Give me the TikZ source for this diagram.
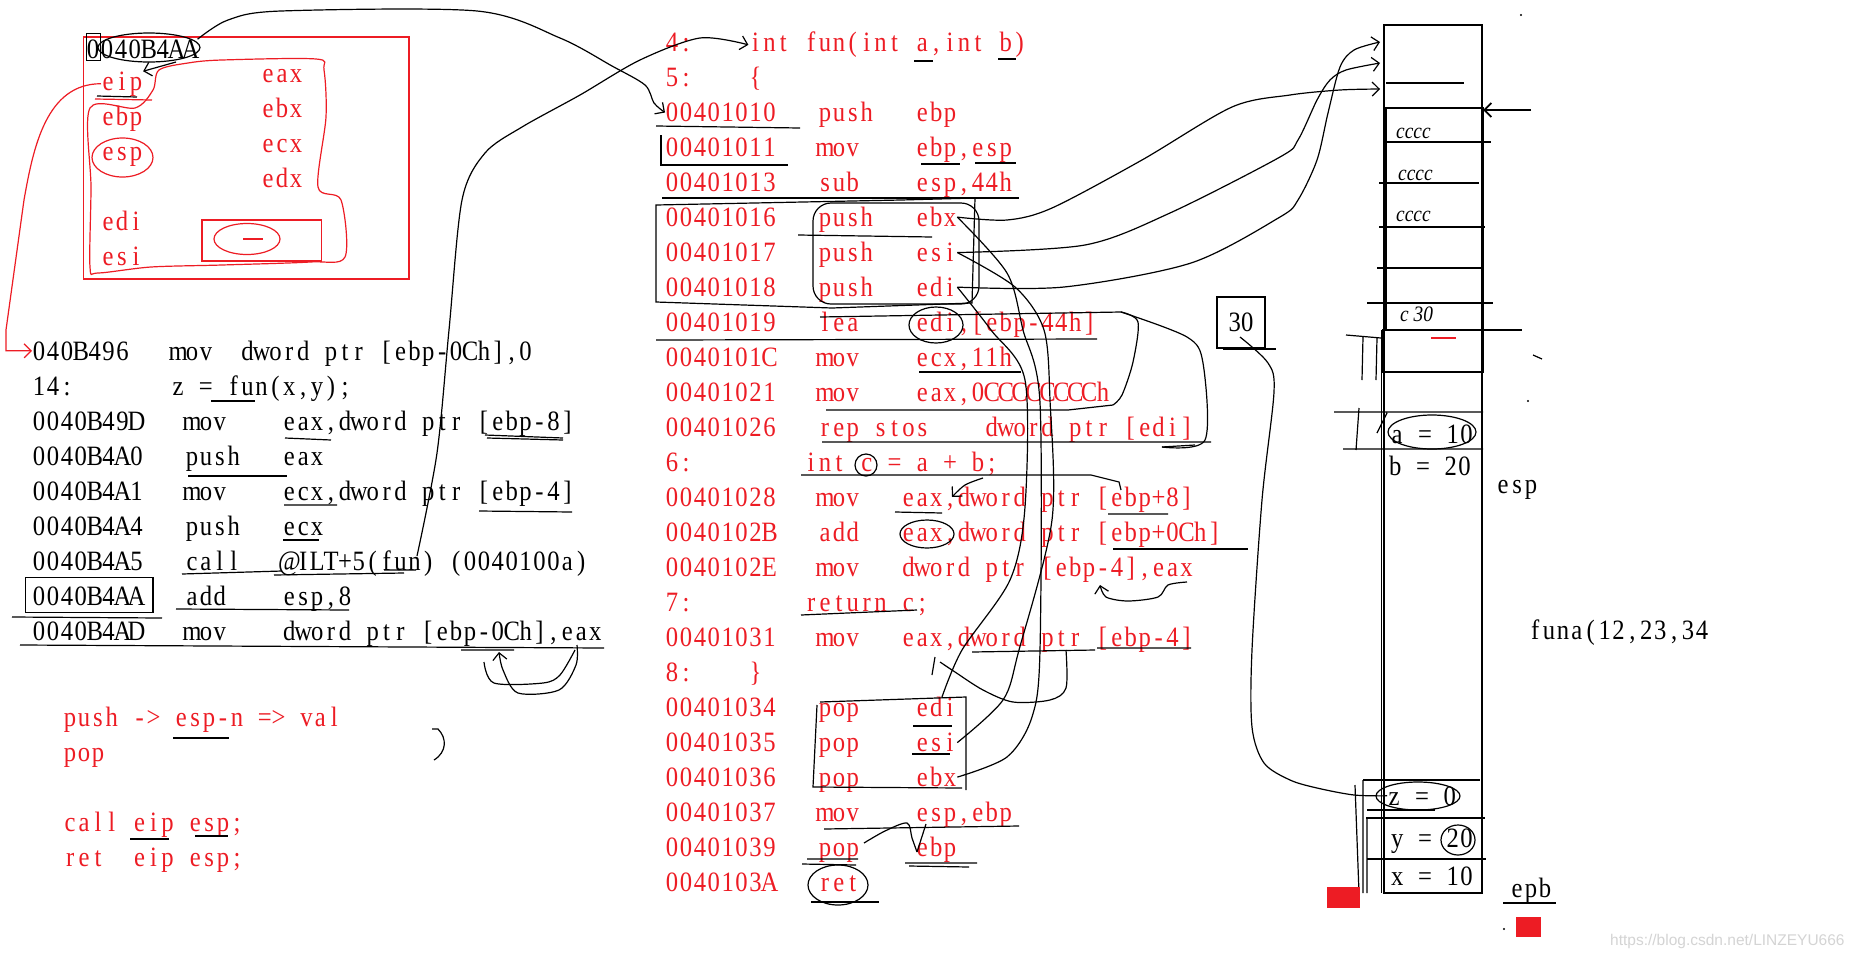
\documentclass[tikz,border=0pt]{standalone}
\usepackage{fontspec}
\setmainfont{Liberation Serif}[FakeStretch=0.88]
\newfontfamily\wmfont{Liberation Sans}
\usetikzlibrary{arrows.meta,calc}

\definecolor{codered}{RGB}{237,28,36}
\definecolor{wmgray}{RGB}{212,212,212}
\newcommand\codefont{\fontsize{28}{30}\selectfont}
\newcommand\handfont{\fontsize{22}{24}\selectfont\itshape}
\newlength\cellw
\setlength\cellw{13.9pt}
% every character in a cell of its own, like the listing font
\ExplSyntaxOn
\NewDocumentCommand\mono{m}{\str_map_inline:nn{#1}{\makebox[\cellw][c]{##1}}}
\ExplSyntaxOff

\begin{document}
\begin{tikzpicture}[x=1pt,y=-1pt,
    code/.style={anchor=base west, inner sep=0pt, text=codered, font=\codefont},
    blk/.style={code, text=black},
    hand/.style={anchor=base west, inner sep=0pt, font=\handfont},
    ink/.style={draw=black, line width=1.2pt},
    redink/.style={draw=codered, line width=1.2pt},
    barb/.style={-{Straight Barb[length=7pt,width=14pt]}},
]
\fill[white] (0,0) rectangle (1861,959);
\useasboundingbox (0,0) rectangle (1861,959);

% Registers
\draw[redink] (83.6,37) rectangle (409,279);
\node[blk] (retaddr) at (86,58) {\mono{0040B4AA}};
\node[code] (eip) at (101,90) {\mono{eip}};
\node[code] (ebp) at (101,125) {\mono{ebp}};
\node[code] (esp) at (101,160) {\mono{esp}};
\node[code] (edi) at (101,230) {\mono{edi}};
\node[code] (esi) at (101,265) {\mono{esi}};
\node[code] (eax) at (261,82) {\mono{eax}};
\node[code] (ebx) at (261,117) {\mono{ebx}};
\node[code] (ecx) at (261,152) {\mono{ecx}};
\node[code] (edx) at (261,187) {\mono{edx}};
\draw[redink] (202,220) rectangle (321.5,261);
\draw[redink] (247,239) ellipse [x radius=33, y radius=15.5];
\draw[redink] (243,239) -- (263,239);
\draw[redink] plot[smooth cycle] coordinates {(222,60) (316,59) (324,70) (326,117) (318,187) (341,200)
    (345,257) (310,262) (222,265) (151,267) (98,273) (90,267) (91,187) (90,108) (135,108) (153,90) (159,70) (188,63)};
\draw[redink] (122.5,157.5) ellipse [x radius=30.5, y radius=19.5];
\draw[redink] (95,99) -- (152,100);
\draw[ink] (97,96) -- (137,97);
\draw[ink] (149,47.5) ellipse [x radius=51, y radius=14.5];
\draw[ink, line width=0.8pt] (86,33) rectangle (100,60);
\draw[ink, barb] (176,62) -- (eip.north east);

% Caller
\node[blk] (l0a) at (32,360) {\mono{040B496}};
\node[blk] (l0b) at (171,360) {\mono{mov}};
\node[blk] (l0c) at (240.5,360) {\mono{dword ptr [ebp-0Ch],0}};
\node[blk] (l1a) at (32,395) {\mono{14:}};
\node[blk] (l1b) at (171,395) {\mono{z = fun(x,y);}};
\node[blk] (l2a) at (32,430) {\mono{0040B49D}};
\node[blk] (l2b) at (184.9,430) {\mono{mov}};
\node[blk] (l2c) at (282.2,430) {\mono{eax,dword ptr [ebp-8]}};
\node[blk] (l3a) at (32,465) {\mono{0040B4A0}};
\node[blk] (l3b) at (184.9,465) {\mono{push}};
\node[blk] (l3c) at (282.2,465) {\mono{eax}};
\node[blk] (l4a) at (32,500) {\mono{0040B4A1}};
\node[blk] (l4b) at (184.9,500) {\mono{mov}};
\node[blk] (l4c) at (282.2,500) {\mono{ecx,dword ptr [ebp-4]}};
\node[blk] (l5a) at (32,535) {\mono{0040B4A4}};
\node[blk] (l5b) at (184.9,535) {\mono{push}};
\node[blk] (l5c) at (282.2,535) {\mono{ecx}};
\node[blk] (l6a) at (32,570) {\mono{0040B4A5}};
\node[blk] (l6b) at (184.9,570) {\mono{call}};
\node[blk] (l6c) at (282.2,570) {\mono{@ILT+5(fun) (0040100a)}};
\node[blk] (l7a) at (32,605) {\mono{0040B4AA}};
\node[blk] (l7b) at (184.9,605) {\mono{add}};
\node[blk] (l7c) at (282.2,605) {\mono{esp,8}};
\node[blk] (l8a) at (32,640) {\mono{0040B4AD}};
\node[blk] (l8b) at (184.9,640) {\mono{mov}};
\node[blk] (l8c) at (282.2,640) {\mono{dword ptr [ebp-0Ch],eax}};
\draw[redink, barb] (eip.west) to[out=180, in=80] (24,200) -- (6,330) |- (l0a.west);
\draw[ink] (25.3,577.7) rectangle (153,612.3);
\draw[ink] (211,401) -- (255,401);
\draw[ink] (285,438) -- (331,440);
\draw[ink] (485,435) -- (563,438) (487,438) -- (563,440);
\draw[ink] (188,476) -- (287,476);
\draw[ink] (284,505) -- (337,505) (479,511) -- (572,512);
\draw[ink] (283,540) -- (319,540);
\draw[ink] (182,574) -- (282,571) (274,575) -- (404,573) (384,570) -- (416,570);
\draw[ink] (176,609) -- (349,610) (12,617) -- (162,618);
\draw[ink] (20,645) -- (604,648) (461,650) -- (514,650);
\draw[ink, barb] plot[smooth] coordinates {(577,645) (576,665) (559,690) (518,693) (503,670) (499,652)};
\draw[ink] plot[smooth] coordinates {(575,650) (560,675) (543,683) (494,683) (484,662)};

% Notes
\node[code] (n1) at (63,726) {\mono{push -> esp-n => val}};
\node[code] (n2) at (63,761) {\mono{pop}};
\node[code] (n3) at (63,831) {\mono{call eip esp;}};
\node[code] (n4) at (63,866) {\mono{ret}};
\node[code] (n5) at (132.5,866) {\mono{eip esp;}};
\draw[ink] (173,738) -- (229,738) (130,839) -- (169,839) (195,836) -- (228,836);
\draw[ink] (432,729) -- (438,729) .. controls (447,738) and (447,752) .. (434,760);

% Callee
\node[code] (m1a) at (665,51.7) {\mono{4:}};
\node[code] (m1b) at (748.4,51.7) {\mono{int fun(int a,int b)}};
\node[code] (m2a) at (665,86.7) {\mono{5:}};
\node[code] (m2b) at (748.4,86.7) {\makebox[\cellw]{\{}};
\node[code] (m3a) at (665,121.7) {\mono{00401010}};
\node[code] (m3b) at (817.9,121.7) {\mono{push}};
\node[code] (m3c) at (915.2,121.7) {\mono{ebp}};
\node[code] (m4a) at (665,156.7) {\mono{00401011}};
\node[code] (m4b) at (817.9,156.7) {\mono{mov}};
\node[code] (m4c) at (915.2,156.7) {\mono{ebp,esp}};
\node[code] (m5a) at (665,191.7) {\mono{00401013}};
\node[code] (m5b) at (817.9,191.7) {\mono{sub}};
\node[code] (m5c) at (915.2,191.7) {\mono{esp,44h}};
\node[code] (m6a) at (665,226.7) {\mono{00401016}};
\node[code] (m6b) at (817.9,226.7) {\mono{push}};
\node[code] (m6c) at (915.2,226.7) {\mono{ebx}};
\node[code] (m7a) at (665,261.7) {\mono{00401017}};
\node[code] (m7b) at (817.9,261.7) {\mono{push}};
\node[code] (m7c) at (915.2,261.7) {\mono{esi}};
\node[code] (m8a) at (665,296.7) {\mono{00401018}};
\node[code] (m8b) at (817.9,296.7) {\mono{push}};
\node[code] (m8c) at (915.2,296.7) {\mono{edi}};
\node[code] (m9a) at (665,331.7) {\mono{00401019}};
\node[code] (m9b) at (817.9,331.7) {\mono{lea}};
\node[code] (m9c) at (915.2,331.7) {\mono{edi,[ebp-44h]}};
\node[code] (m10a) at (665,366.7) {\mono{0040101C}};
\node[code] (m10b) at (817.9,366.7) {\mono{mov}};
\node[code] (m10c) at (915.2,366.7) {\mono{ecx,11h}};
\node[code] (m11a) at (665,401.7) {\mono{00401021}};
\node[code] (m11b) at (817.9,401.7) {\mono{mov}};
\node[code] (m11c) at (915.2,401.7) {\mono{eax,0CCCCCCCCh}};
\node[code] (m12a) at (665,436.7) {\mono{00401026}};
\node[code] (m12b) at (817.9,436.7) {\mono{rep stos}};
\node[code] (m12c) at (984.7,436.7) {\mono{dword ptr [edi]}};
\node[code] (m13a) at (665,471.7) {\mono{6:}};
\node[code] (m13b) at (804,471.7) {\mono{int c = a + b;}};
\node[code] (m14a) at (665,506.7) {\mono{00401028}};
\node[code] (m14b) at (817.9,506.7) {\mono{mov}};
\node[code] (m14c) at (901.3,506.7) {\mono{eax,dword ptr [ebp+8]}};
\node[code] (m15a) at (665,541.7) {\mono{0040102B}};
\node[code] (m15b) at (817.9,541.7) {\mono{add}};
\node[code] (m15c) at (901.3,541.7) {\mono{eax,dword ptr [ebp+0Ch]}};
\node[code] (m16a) at (665,576.7) {\mono{0040102E}};
\node[code] (m16b) at (817.9,576.7) {\mono{mov}};
\node[code] (m16c) at (901.3,576.7) {\mono{dword ptr [ebp-4],eax}};
\node[code] (m17a) at (665,611.7) {\mono{7:}};
\node[code] (m17b) at (804,611.7) {\mono{return c;}};
\node[code] (m18a) at (665,646.7) {\mono{00401031}};
\node[code] (m18b) at (817.9,646.7) {\mono{mov}};
\node[code] (m18c) at (901.3,646.7) {\mono{eax,dword ptr [ebp-4]}};
\node[code] (m19a) at (665,681.7) {\mono{8:}};
\node[code] (m19b) at (748.4,681.7) {\makebox[\cellw]{\}}};
\node[code] (m20a) at (665,716.7) {\mono{00401034}};
\node[code] (m20b) at (817.9,716.7) {\mono{pop}};
\node[code] (m20c) at (915.2,716.7) {\mono{edi}};
\node[code] (m21a) at (665,751.7) {\mono{00401035}};
\node[code] (m21b) at (817.9,751.7) {\mono{pop}};
\node[code] (m21c) at (915.2,751.7) {\mono{esi}};
\node[code] (m22a) at (665,786.7) {\mono{00401036}};
\node[code] (m22b) at (817.9,786.7) {\mono{pop}};
\node[code] (m22c) at (915.2,786.7) {\mono{ebx}};
\node[code] (m23a) at (665,821.7) {\mono{00401037}};
\node[code] (m23b) at (817.9,821.7) {\mono{mov}};
\node[code] (m23c) at (915.2,821.7) {\mono{esp,ebp}};
\node[code] (m24a) at (665,856.7) {\mono{00401039}};
\node[code] (m24b) at (817.9,856.7) {\mono{pop}};
\node[code] (m24c) at (915.2,856.7) {\mono{ebp}};
\node[code] (m25a) at (665,891.7) {\mono{0040103A}};
\node[code] (m25b) at (817.9,891.7) {\mono{ret}};

% Marks on the callee
\draw[ink] (914,61) -- (933,61) (998,59) -- (1016,59);
\draw[ink] (656,126) -- (800,128);
\draw[ink] (661,135) -- (661,165) -- (788,165) (921,164) -- (960,164) (975,163) -- (1016,163);
\draw[ink] (662,198) -- (1019,198);
\draw[ink] (656,205) -- (901,200) -- (975,198) -- (972,303) -- (832,308) -- (656,302) -- cycle;
\draw[ink] (798,235) -- (932,237);
\draw[ink, rounded corners=18pt] (813,203) rectangle (979,304);
\draw[ink] (936,325) ellipse [x radius=27, y radius=18];
\draw[ink] (820,317) -- (1121,312) (656,340) -- (1097,339);
\draw[ink] (919,372) -- (1021,372);
\draw[ink] (826,410) -- (1068,410) -- (1113,405);
\draw[ink] (822,442) -- (1211,442) (1162,447) -- (1195,445);
\draw[ink] plot[smooth] coordinates {(1121,312) (1138,322) (1133,362) (1122,395) (1113,405)};
\draw[ink] plot[smooth] coordinates {(1121,312) (1187,337) (1203,363) (1205,440) (1162,447)};
\draw[ink] (866,465) circle [radius=11];
\draw[ink] (801,475) -- (1091,475) -- (1119,482) -- (1121,490);
\draw[ink, barb] plot[smooth] coordinates {(983,478) (965,485) (952,497)};
\draw[ink] (895,512) -- (942,513) (1108,514) -- (1168,514);
\draw[ink] (927,534) ellipse [x radius=27, y radius=14];
\draw[ink] (1113,549) -- (1248,549);
\draw[ink, barb] plot[smooth] coordinates {(1187,582) (1168,585) (1158,597) (1128,601) (1106,597) (1100,585)};
\draw[ink] (801,615) -- (917,610);
\draw[ink] (1097,648) -- (1191,648) (972,652) -- (1095,650);
\draw[ink] plot[smooth] coordinates {(1066,650) (1066,688) (1050,700) (1013,702) (983,690) (955,672) (940,662)};
\draw[ink] (935,657) -- (932,675);
\draw[ink] (820,702) -- (966,697) -- (966,790) (817,705) -- (813,787) -- (962,788);
\draw[ink] (913,726) -- (952,726) (912,754) -- (950,754);
\draw[ink] (824,829) -- (1019,826);
\draw[ink] plot[smooth] coordinates {(864,843) (885,831) (907,823) (912,838) (917,852)};
\draw[ink] (926,824) -- (917,852);
\draw[ink] (807,859) -- (858,859) (802,864) -- (856,865) (905,863) -- (977,863) (909,866) -- (969,867);
\draw[ink] (838,885) ellipse [x radius=30, y radius=20];
\draw[ink] (811,902) -- (879,902);

% Lines between listings
\draw[ink, barb] plot[smooth] coordinates {(retaddr.north east) (228,20) (281,11) (477,11) (560,38) (612,66) (645,85) (654,103) (m3a.west)};
\draw[ink, barb] plot[smooth] coordinates {(417,556) (437,453) (449,330) (462,200) (485,153) (522,127) (580,95) (640,60) (700,38) (m1b.west)};
\draw[ink] plot[smooth] coordinates {(m8c.east) (991,330) (1025,380) (1025,507) (1010,580) (962,650) (942,697)};
\draw[ink] plot[smooth] coordinates {(m7c.east) (1015,287) (1044,330) (1050,400) (1052,520) (1019,650) (1003,700) (m21c.east)};
\draw[ink] plot[smooth] coordinates {(m6c.east) (1007,273) (1023,330) (1040,403) (1040,650) (1032,717) (1007,757) (m22c.east)};

% Stack
\draw[ink] (1384,25) rectangle (1482,893);
\draw[ink] (1381.5,330) -- (1381.5,893);
\draw[ink, line width=1.8pt] (1386,108) rectangle (1483,330);
\draw[ink, line width=1.6pt] (1383,330) rectangle (1483,372);
\draw[ink] (1386,83) -- (1464,83);
\draw[ink] (1383,142) -- (1491,142) (1379,183) -- (1479,183) (1379,227) -- (1485,227);
\draw[ink] (1377,268) -- (1482,268) (1367,303) -- (1493,303) (1472,330) -- (1522,330);
\draw[redink] (1431,338) -- (1456,338);
\draw[ink] (1346,335) -- (1381,338) (1363,337) -- (1362,380) (1377,338) -- (1376,380);
\node[hand] (cc1) at (1396,138) {cccc};
\node[hand] (cc2) at (1398,180) {cccc};
\node[hand] (cc3) at (1396,221) {cccc};
\node[hand] (cc4) at (1400,321) {c 30};
\draw[ink, barb, line width=1.8pt] (1531,110) -- (1483,110);
\coordinate (slot1) at (1380,42);
\coordinate (slot2) at (1380,63);
\coordinate (slot3) at (1380,89);
\draw[ink, barb] plot[smooth] coordinates {(m6c.east) (1007,220) (1052,208) (1142,160) (1232,107) (1290,95) (1340,90) (slot3)};
\draw[ink, barb] plot[smooth] coordinates {(m7c.east) (1085,245) (1170,213) (1280,157) (1298,140) (1317,100) (1330,80) (1346,70) (slot2)};
\draw[ink, barb] plot[smooth] coordinates {(m8c.east) (1064,287) (1191,263) (1280,217) (1298,200) (1317,160) (1328,113) (1340,67) (1354,50) (slot1)};
\draw[ink] (1334,412) -- (1483,412) (1343,449) -- (1483,449) (1359,408) -- (1356,450) (1387,413) -- (1377,433);
\node[blk] (aval) at (1390,443) {\mono{a = 10}};
\node[blk] (bval) at (1388,475) {\mono{b = 20}};
\draw[ink] (1432,432) ellipse [x radius=44, y radius=17];
\node[blk] (esplbl) at (1496,493) {\mono{esp}};
\node[blk] (funa) at (1528,639) {\mono{funa(12,23,34}};
\draw[ink] (1363,780) -- (1480,780) (1367,810) -- (1435,810) (1366,818) -- (1485,818) (1367,859) -- (1486,859);
\draw[ink] (1355,785) -- (1359,893) (1363,780) -- (1363,893) (1367,818) -- (1367,893);
\node[blk] (zval) at (1387,805) {\mono{z = 0}};
\node[blk] (yval) at (1390,847) {\mono{y = 20}};
\node[blk] (xval) at (1390,885) {\mono{x = 10}};
\draw[ink] (1418,796) ellipse [x radius=42, y radius=14];
\draw[ink] (1458,840) ellipse [x radius=17, y radius=15];
\node[blk] (epb) at (1510,897) {\mono{epb}};
\draw[ink] (1503,903) -- (1556,903);
\fill[codered] (1327,887) rectangle (1360,908);
\fill[codered] (1516,917) rectangle (1541,937);
\fill (1521,15) circle [radius=1.2] (1528,401) circle [radius=1.2] (1504,929) circle [radius=1.2];
\draw[ink] (1533,355) -- (1542,359);

% Local slot 30
\draw[ink] (1217,297) rectangle (1265,348);
\draw[ink] (1223,349) -- (1276,349);
\node[black, font=\codefont] (thirty) at (1241,322) {30};
\draw[ink] plot[smooth] coordinates {(1240,337) (1268,363) (1274,392) (1262,500) (1252,650) (1252,727) (1264,763) (1290,780) (1317,788) (1354,795) (zval.west)};

\node[anchor=base west, inner sep=0pt, text=wmgray, font=\wmfont\fontsize{15.5}{17}\selectfont] (mark) at (1610,945) {https://blog.csdn.net/LINZEYU666};
\end{tikzpicture}
\end{document}
